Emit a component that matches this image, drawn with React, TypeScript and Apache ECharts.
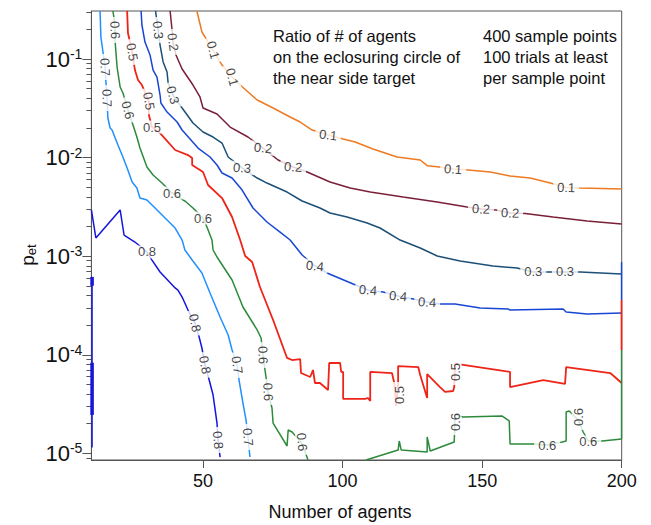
import { useEffect, useRef } from "react";
import * as echarts from "echarts";

const FONT = '"Liberation Sans", Arial, Helvetica, sans-serif';

// axis extents: number of agents, log10(p_et)
const agentRange = [10, 200];
const logPRange = [-5.067, -0.513];
const xTickValues = [50, 100, 150, 200];
const yTickExponents = [-5, -4, -3, -2, -1];
const minorMultipliers = [2, 3, 4, 5, 6, 7, 8, 9];

const noteLeft = ["Ratio of # of agents", "on the eclosuring circle of", "the near side target"];
const noteRight = ["400 sample points", "100 trials at least", "per sample point"];

const levelColors: Record<string, string> = {
  "0.1": "#ee7a22",
  "0.2": "#7a1f38",
  "0.3": "#1c4f76",
  "0.4": "#1846d4",
  "0.5": "#ee2418",
  "0.6": "#2c8a3a",
  "0.7": "#2090ff",
  "0.8": "#1515dc",
};

// contour lines, points are [number of agents, log10(p_et)]
const contour01 = [
  [47.8, -0.513], [49.6, -0.726], [53.6, -0.909], [56.8, -1.061], [60.4, -1.183], [63.3, -1.264],
  [69.4, -1.416], [75.1, -1.497], [81.2, -1.588], [84.8, -1.639], [89.1, -1.72], [94.8, -1.771],
  [100.2, -1.811], [104.5, -1.842], [110.9, -1.913], [119.5, -1.994], [127.8, -2.024], [130.3, -2.082],
  [133.9, -2.092], [139.6, -2.116], [145.0, -2.126], [152.9, -2.146], [160.0, -2.187], [167.2, -2.207],
  [174.4, -2.258], [180.1, -2.303], [185.1, -2.308], [200, -2.318],
];

const contour02 = [
  [38.2, -0.513], [38.9, -0.706], [39.2, -0.828], [40.3, -0.959], [42.5, -1.101], [46.4, -1.264],
  [48.9, -1.385], [50.0, -1.497], [55.0, -1.558], [59.7, -1.69], [66.1, -1.791], [71.5, -1.903],
  [76.9, -2.024], [82.3, -2.095], [87.3, -2.146], [95.5, -2.247], [102.7, -2.308], [109.9, -2.349],
  [121.7, -2.4], [133.9, -2.45], [144.6, -2.501], [149.6, -2.521], [155.0, -2.531], [160.0, -2.562],
  [165.4, -2.567], [175.4, -2.602], [187.6, -2.643], [200, -2.673],
];

const contour03 = [
  [33.0, -0.513], [33.4, -0.604], [33.9, -0.706], [34.6, -0.858], [35.7, -1.03], [37.1, -1.132],
  [37.5, -1.243], [39.2, -1.365], [42.5, -1.497], [46.4, -1.649], [50.0, -1.74], [53.6, -1.791],
  [56.8, -1.852], [59.0, -1.994], [64.0, -2.105], [69.4, -2.207], [72.9, -2.258], [80.1, -2.349],
  [85.5, -2.44], [91.9, -2.511], [95.5, -2.562], [101.6, -2.602], [108.8, -2.663], [113.4, -2.714],
  [120.6, -2.836], [127.8, -2.917], [133.9, -2.998], [142.1, -3.049], [153.9, -3.099], [162.5, -3.12],
  [168.3, -3.16], [179.7, -3.16], [185.1, -3.16], [200, -3.18],
];

const contour04 = [
  [27.8, -0.513], [28.1, -0.655], [29.2, -0.828], [31.0, -0.959], [32.1, -1.112], [33.5, -1.183],
  [34.6, -1.365], [34.9, -1.446], [37.1, -1.538], [38.9, -1.588], [40.7, -1.639], [42.5, -1.72],
  [48.2, -1.903], [52.5, -1.994], [55.0, -2.075], [56.8, -2.156], [60.4, -2.207], [64.0, -2.329],
  [67.9, -2.511], [72.9, -2.653], [77.6, -2.755], [81.2, -2.836], [85.5, -2.988], [90.1, -3.099],
  [94.4, -3.17], [103.8, -3.282], [109.1, -3.343], [114.5, -3.363], [119.9, -3.404], [125.3, -3.434],
  [130.3, -3.465], [134.9, -3.485], [140.3, -3.485], [149.3, -3.525], [159.3, -3.535], [160.0, -3.546],
  [179.0, -3.535], [180.1, -3.566], [187.6, -3.586], [200, -3.576],
];

const contour05 = [
  [22.8, -0.513], [23.1, -0.736], [23.5, -0.787], [24.6, -0.929], [25.6, -1.112], [26.7, -1.213],
  [28.1, -1.264], [30.6, -1.426], [30.6, -1.568], [31.7, -1.69], [34.6, -1.751], [40.0, -1.923],
  [44.6, -1.974], [46.1, -2.004], [46.1, -2.075], [50.0, -2.146], [51.8, -2.278], [56.8, -2.41],
  [60.4, -2.602], [63.3, -2.836], [65.1, -2.998], [67.6, -3.059], [70.4, -3.312], [75.1, -3.647],
  [80.1, -4.032], [81.9, -4.053], [84.8, -4.043], [85.1, -4.185], [88.4, -4.225], [89.4, -4.154],
  [90.1, -4.286], [91.9, -4.286], [94.8, -4.357], [95.2, -4.083], [99.1, -4.083], [99.5, -4.174],
  [100.2, -4.174], [100.2, -4.448], [108.1, -4.448], [109.1, -4.438], [109.9, -4.469], [109.9, -4.174],
  [117.7, -4.185], [118.5, -4.286], [119.2, -4.519], [119.9, -4.286], [119.9, -4.114], [127.1, -4.124],
  [127.8, -4.205], [130.3, -4.438], [130.3, -4.195], [134.9, -4.327], [136.7, -4.377], [139.6, -4.367],
  [140.0, -4.327], [140.3, -4.093], [143.2, -4.103], [160.0, -4.174], [160.0, -4.327], [171.9, -4.256],
  [179.7, -4.296], [180.1, -4.124], [195.9, -4.185], [200, -4.286],
];

const contour06a = [
  [17.7, -0.513], [18.1, -0.584], [18.5, -0.706], [18.5, -0.828], [19.2, -1.081], [20.3, -1.284],
  [21.3, -1.345], [23.1, -1.517], [24.9, -1.669], [26.3, -1.791], [27.4, -1.903], [29.9, -2.095],
  [32.1, -2.176], [35.3, -2.258], [38.9, -2.359], [43.5, -2.44], [46.4, -2.511], [50.0, -2.613],
  [51.4, -2.704], [53.2, -2.836], [53.6, -2.937], [55.0, -3.008], [60.4, -3.241], [64.3, -3.515],
  [69.4, -3.748], [70.8, -3.83], [71.5, -4.002], [72.2, -4.154], [73.3, -4.377], [74.7, -4.54],
  [75.1, -4.692], [80.1, -4.925], [80.5, -4.763], [81.9, -4.783], [84.8, -4.874], [86.6, -4.986],
  [87.6, -5.067],
];

const contour06b = [
  [108.4, -5.067], [119.9, -4.966], [120.3, -4.874], [121.0, -4.966], [130.3, -4.986], [130.3, -4.834],
  [131.4, -4.976], [140.0, -4.884], [140.3, -4.611], [143.2, -4.631], [157.2, -4.621], [159.7, -4.671],
  [160.0, -4.905], [168.3, -4.905], [173.3, -4.915], [178.7, -4.884], [180.1, -4.874], [180.1, -4.58],
  [181.2, -4.57], [184.4, -4.661], [186.2, -4.783], [188.0, -4.874], [193.0, -4.874], [200, -4.854],
];

const contour07 = [
  [13.1, -0.513], [13.4, -0.777], [13.8, -0.858], [14.9, -1.081], [15.2, -1.233], [15.6, -1.396],
  [15.9, -1.598], [16.7, -1.7], [17.4, -1.72], [19.5, -1.872], [21.0, -1.974], [22.8, -2.105],
  [24.6, -2.247], [26.3, -2.308], [27.4, -2.41], [29.9, -2.43], [32.8, -2.511], [36.4, -2.613],
  [40.0, -2.714], [42.5, -2.836], [43.5, -2.937], [46.1, -3.039], [49.6, -3.17], [52.5, -3.373],
  [56.1, -3.617], [59.0, -3.799], [60.4, -3.951], [62.2, -4.103], [62.9, -4.256], [64.3, -4.489],
  [65.4, -4.661], [66.1, -4.834], [66.8, -5.037],
];

const contour08 = [
  [10.0, -2.531], [11.6, -2.815], [20.3, -2.531], [21.7, -2.785], [25.6, -2.856], [29.9, -2.957],
  [31.7, -3.039], [34.6, -3.16], [40.0, -3.322], [41.0, -3.343], [42.5, -3.414], [44.6, -3.546],
  [47.1, -3.677], [48.6, -3.819], [49.6, -3.931], [50.7, -4.103], [52.2, -4.256], [53.6, -4.408],
  [55.0, -4.692], [55.4, -4.864], [56.1, -5.037],
];

// contour traces running along the left and right borders
const edgeLeft08 = [[10.25, -3.21], [10.25, -4.94]];
const edgeLeft08DenseA = [[10.25, -3.21], [10.25, -3.3]];
const edgeLeft08DenseB = [[10.25, -4.08], [10.25, -4.61]];
const edgeRight04 = [[199.95, -3.06], [199.95, -3.444]];
const edgeRight05 = [[199.95, -3.444], [199.95, -3.951]];
const edgeRight06 = [[199.95, -3.951], [199.95, -4.854]];

// contour labels: [level, agents, log10(p_et), text angle]
const contourLabels: [string, number, number, number][] = [
  ["0.1", 53.6, -0.909, -75], ["0.1", 60.4, -1.183, -75], ["0.1", 94.8, -1.771, -6],
  ["0.1", 139.6, -2.116, -4], ["0.1", 180.1, -2.303, -2],
  ["0.2", 39.2, -0.828, -82], ["0.2", 71.5, -1.903, -6], ["0.2", 82.3, -2.095, -4],
  ["0.2", 149.6, -2.521, -3], ["0.2", 160.0, -2.562, -3],
  ["0.3", 33.9, -0.706, -85], ["0.3", 39.2, -1.365, -75], ["0.3", 64.0, -2.105, -4],
  ["0.3", 168.3, -3.16, 0], ["0.3", 179.7, -3.16, 0],
  ["0.4", 90.1, -3.099, -6], ["0.4", 109.1, -3.343, -5], ["0.4", 119.9, -3.404, -5],
  ["0.4", 130.3, -3.465, -4],
  ["0.5", 24.6, -0.929, -80], ["0.5", 30.6, -1.426, -80], ["0.5", 31.7, -1.69, 0],
  ["0.5", 120.3, -4.408, 90], ["0.5", 140.3, -4.174, 90],
  ["0.6", 18.5, -0.706, -88], ["0.6", 23.1, -1.517, -75], ["0.6", 38.9, -2.359, 0],
  ["0.6", 50.0, -2.613, 0], ["0.6", 71.5, -4.002, -88], ["0.6", 73.3, -4.377, -88],
  ["0.6", 85.5, -4.884, -85], ["0.6", 140.3, -4.682, 90], ["0.6", 173.3, -4.915, 0],
  ["0.6", 184.4, -4.631, 90], ["0.6", 188.0, -4.884, 0],
  ["0.7", 14.9, -1.081, -88], ["0.7", 15.6, -1.396, -88], ["0.7", 62.2, -4.103, -82],
  ["0.7", 66.1, -4.834, -85],
  ["0.8", 29.9, -2.957, 0], ["0.8", 47.1, -3.677, -78], ["0.8", 50.7, -4.103, -80],
  ["0.8", 55.4, -4.864, -85],
];

const contourPieces: { level: string; data: number[][]; width?: number }[] = [
  { level: "0.1", data: contour01 },
  { level: "0.2", data: contour02 },
  { level: "0.3", data: contour03 },
  { level: "0.4", data: contour04 },
  { level: "0.4", data: edgeRight04 },
  { level: "0.5", data: contour05, width: 1.8 },
  { level: "0.5", data: edgeRight05, width: 1.8 },
  { level: "0.6", data: contour06a },
  { level: "0.6", data: contour06b },
  { level: "0.6", data: edgeRight06 },
  { level: "0.7", data: contour07 },
  { level: "0.8", data: contour08 },
  { level: "0.8", data: edgeLeft08, width: 1.4 },
  { level: "0.8", data: edgeLeft08DenseA, width: 3.5 },
  { level: "0.8", data: edgeLeft08DenseB, width: 3.5 },
];

const minorTickValues: number[] = [];
for (let e = -6; e <= -1; e++) {
  for (const m of minorMultipliers) {
    const v = e + Math.log10(m);
    if (v > logPRange[0] && v < logPRange[1]) minorTickValues.push(v);
  }
}

const AXIS_COLOR = "#555555";

export default function App() {
  const ref = useRef<HTMLDivElement>(null);

  useEffect(() => {
    if (!ref.current) return;
    const chart = echarts.init(ref.current, undefined, { renderer: "svg" });

    const lineSeries = contourPieces.map((p) => ({
      type: "line" as const,
      data: p.data,
      showSymbol: false,
      symbol: "none",
      clip: false,
      silent: true,
      z: 2,
      lineStyle: { color: levelColors[p.level], width: p.width ?? 1.5 },
    }));

    const labelSeries = {
      type: "scatter" as const,
      symbolSize: 0,
      silent: true,
      clip: false,
      z: 5,
      data: contourLabels.map(([level, x, y, angle]) => ({
        name: level,
        value: [x, y],
        label: { rotate: angle },
      })),
      label: {
        show: true,
        position: "inside",
        formatter: "{b}",
        fontSize: 13,
        fontFamily: FONT,
        color: "#111111",
        backgroundColor: "#ffffff",
        padding: [0, 4],
      },
    };

    chart.setOption({
      animation: false,
      backgroundColor: "#ffffff",
      textStyle: { fontFamily: FONT },
      grid: {
        left: 91.4,
        right: 29.3,
        top: 11,
        bottom: 65,
        show: true,
        borderColor: AXIS_COLOR,
        borderWidth: 1,
        backgroundColor: "transparent",
      },
      xAxis: {
        type: "value",
        min: agentRange[0],
        max: agentRange[1],
        axisLine: { show: true, onZero: false, lineStyle: { color: AXIS_COLOR, width: 1 } },
        axisTick: { show: true, inside: false, length: 8, customValues: xTickValues, lineStyle: { color: AXIS_COLOR } },
        axisLabel: { show: true, customValues: xTickValues, fontSize: 18, color: "#111", margin: 12, fontFamily: FONT },
        splitLine: { show: false },
      },
      yAxis: [
        {
          type: "value",
          min: logPRange[0],
          max: logPRange[1],
          position: "left",
          axisLine: { show: true, onZero: false, lineStyle: { color: AXIS_COLOR, width: 1 } },
          axisTick: { show: true, inside: false, length: 9, customValues: yTickExponents, lineStyle: { color: AXIS_COLOR } },
          axisLabel: {
            show: true,
            customValues: yTickExponents,
            margin: 9,
            formatter: (v: number) => `{b|10}{s|${v}}`,
            rich: {
              b: { fontSize: 22, fontFamily: FONT, color: "#111", lineHeight: 24 },
              s: { fontSize: 14, fontFamily: FONT, color: "#111", verticalAlign: "top", lineHeight: 13 },
            },
          },
          splitLine: { show: false },
        },
        {
          type: "value",
          min: logPRange[0],
          max: logPRange[1],
          position: "left",
          axisLine: { show: false },
          axisTick: { show: true, inside: false, length: 5, customValues: minorTickValues, lineStyle: { color: AXIS_COLOR } },
          axisLabel: { show: false },
          splitLine: { show: false },
        },
      ],
      series: [...lineSeries, labelSeries],
      graphic: [
        {
          type: "text",
          x: 273,
          y: 57,
          silent: true,
          style: {
            text: noteLeft.join("\n"),
            fontSize: 16.5,
            fontFamily: FONT,
            fill: "#111",
            lineHeight: 21,
            align: "left",
            verticalAlign: "middle",
            textAlign: "left",
            textVerticalAlign: "middle",
          },
        },
        {
          type: "text",
          x: 483,
          y: 57,
          silent: true,
          style: {
            text: noteRight.join("\n"),
            fontSize: 16.5,
            fontFamily: FONT,
            fill: "#111",
            lineHeight: 21,
            align: "left",
            verticalAlign: "middle",
            textAlign: "left",
            textVerticalAlign: "middle",
          },
        },
        {
          type: "text",
          x: 340,
          y: 512,
          silent: true,
          style: {
            text: "Number of agents",
            fontSize: 18,
            fontFamily: FONT,
            fill: "#111",
            align: "center",
            verticalAlign: "middle",
            textAlign: "center",
            textVerticalAlign: "middle",
          },
        },
        {
          type: "text",
          x: 27,
          y: 255,
          rotation: Math.PI / 2,
          silent: true,
          style: {
            text: "{p|p}{e|et}",
            fill: "#111",
            align: "center",
            verticalAlign: "middle",
            textAlign: "center",
            textVerticalAlign: "middle",
            rich: {
              p: { fontSize: 19, fontFamily: FONT, fill: "#111", lineHeight: 22 },
              e: { fontSize: 13, fontFamily: FONT, fill: "#111", verticalAlign: "bottom", lineHeight: 14 },
            },
          },
        },
      ],
    });

    return () => chart.dispose();
  }, []);

  return (
    <div
      ref={ref}
      style={{ position: "fixed", left: 0, top: 0, width: 651, height: 525, background: "#fff" }}
    />
  );
}
